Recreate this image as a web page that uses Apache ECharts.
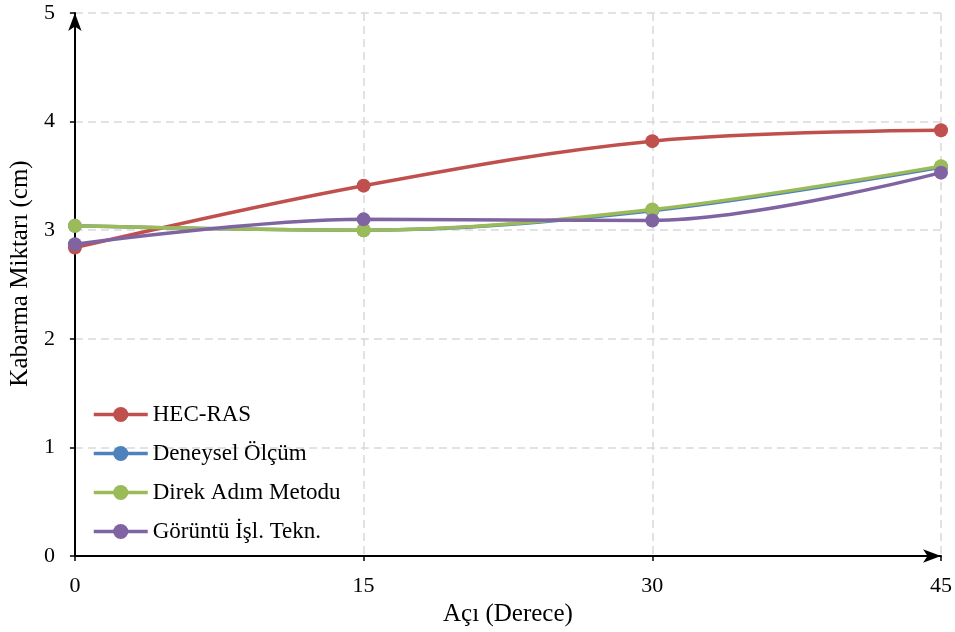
<!DOCTYPE html>
<html><head><meta charset="utf-8">
<script src="https://cdn.jsdelivr.net/npm/echarts@6/dist/echarts.min.js"></script>
<style>html,body{margin:0;padding:0;background:#fff}#c{width:955px;height:632px}</style>
</head><body><div id="c"></div>
<script>
var angles = [0, 15, 30, 45];
var hecras = [2.84, 3.41, 3.82, 3.92];
var deneysel = [3.04, 3.00, 3.18, 3.58];
var direk = [3.04, 3.00, 3.19, 3.59];
var goruntu = [2.87, 3.10, 3.09, 3.53];
var seriesNames = ['HEC-RAS', 'Deneysel Ölçüm', 'Direk Adım Metodu', 'Görüntü İşl. Tekn.'];
var colors = ['#C0504D', '#4F81BD', '#9BBB59', '#8064A2'];
var allData = [hecras, deneysel, direk, goruntu];

var font = 'Liberation Serif, Times New Roman, serif';
var chart = echarts.init(document.getElementById('c'));
var series = allData.map(function (d, i) {
  return {
    name: seriesNames[i], type: 'line', smooth: 0.35,
    data: angles.map(function (a, j) { return [a, d[j]]; }),
    symbol: 'circle', symbolSize: 14,
    lineStyle: { width: 3.5, color: colors[i] },
    itemStyle: { color: colors[i] },
    z: i === 1 ? 1 : 2 + i
  };
});
chart.setOption({
  animation: false,
  color: colors,
  grid: { left: 73, right: 14, top: 13, bottom: 76 },
  legend: {
    orient: 'vertical', left: 87, top: 398, itemWidth: 54, itemHeight: 19, itemGap: 16,
    lineStyle: { width: 3.5 },
    textStyle: { fontFamily: font, fontSize: 23, color: '#000' },
    data: seriesNames
  },
  xAxis: {
    type: 'value', min: 0, max: 45, interval: 15,
    name: 'Açı (Derece)', nameLocation: 'middle', nameGap: 44,
    nameTextStyle: { fontFamily: font, fontSize: 25, color: '#000' },
    axisLine: { show: true, symbol: ['none', 'arrow'], symbolSize: [10, 18], lineStyle: { color: '#000', width: 2 } },
    axisTick: { show: true, length: 5, lineStyle: { color: '#000', width: 1.5 } },
    axisLabel: { fontFamily: font, fontSize: 22, color: '#000', margin: 19 },
    splitLine: { show: true, lineStyle: { color: '#d9d9d9', type: [8, 5], width: 1.5 } }
  },
  yAxis: {
    type: 'value', min: 0, max: 5, interval: 1,
    name: 'Kabarma Miktarı (cm)', nameLocation: 'middle', nameGap: 40,
    nameTextStyle: { fontFamily: font, fontSize: 25, color: '#000', padding: [0, 0, 0, 22] },
    axisLine: { show: true, symbol: ['none', 'arrow'], symbolSize: [10, 18], lineStyle: { color: '#000', width: 2 } },
    axisTick: { show: true, length: 5, lineStyle: { color: '#000', width: 1.5 } },
    axisLabel: { fontFamily: font, fontSize: 22, color: '#000', margin: 20 },
    splitLine: { show: true, lineStyle: { color: '#d9d9d9', type: [8, 5], width: 1.5 } }
  },
  series: series
});
</script>
</body></html>
